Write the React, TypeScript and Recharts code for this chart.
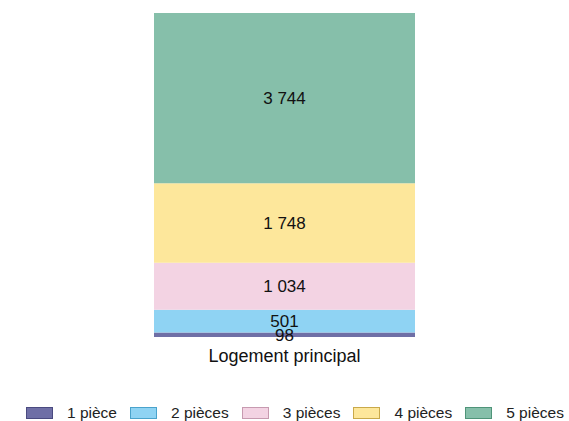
import { Bar, BarChart, LabelList, Legend, XAxis, YAxis } from "recharts";

const categories = ["Logement principal"];
const seriesNames = ["1 pièce", "2 pièces", "3 pièces", "4 pièces", "5 pièces"];
const seriesValues = [98, 501, 1034, 1748, 3744];
const colours = ["#6f6fa6", "#8fd3f3", "#f3d3e3", "#fde79b", "#86bfaa"];
const borders = ["#4a4a80", "#4aa3cc", "#c79ab0", "#c9a94a", "#4f9479"];

const data = categories.map((name) => {
  const row: Record<string, string | number> = { name };
  seriesNames.forEach((s, i) => (row[s] = seriesValues[i]));
  return row;
});

const total = seriesValues.reduce((a, b) => a + b, 0);
const fmt = (v: unknown) => String(v).replace(/\B(?=(\d{3})+(?!\d))/g, " ");

const font = "'Liberation Sans', Arial, sans-serif";

function LegendContent() {
  return (
    <div style={{ display: "flex", justifyContent: "flex-start", paddingLeft: 26, alignItems: "center", height: 16, fontFamily: font, fontSize: 15.5, color: "#222" }}>
      {seriesNames.map((s, i) => (
        <span key={s} style={{ display: "flex", alignItems: "center", marginRight: i < seriesNames.length - 1 ? 13 : 0 }}>
          <span style={{ display: "inline-block", width: 25, height: 10, background: colours[i], border: `1px solid ${borders[i]}`, marginRight: 14 }} />
          {s}
        </span>
      ))}
    </div>
  );
}

export default function App() {
  return (
    <div style={{ position: "absolute", left: 0, top: 0, width: 569, height: 421, background: "#fff" }}>
      <BarChart width={569} height={421} data={data} margin={{ top: 13, right: 0, left: 0, bottom: 0 }} barSize={261}>
        <XAxis dataKey="name" axisLine={false} tickLine={false} height={68} tickMargin={6}
          tick={{ fill: "#111", fontSize: 18, fontFamily: font }} />
        <YAxis hide domain={[0, total]} />
        <Legend verticalAlign="bottom" height={16} content={<LegendContent />} wrapperStyle={{ bottom: 0, left: 0, width: 569 }} />
        {seriesNames.map((s, i) => (
          <Bar key={s} dataKey={s} stackId="a" fill={colours[i]} isAnimationActive={false}>
            <LabelList dataKey={s} position="center" formatter={fmt} fill="#111" fontSize={17} fontFamily={font} />
          </Bar>
        ))}
      </BarChart>
    </div>
  );
}
